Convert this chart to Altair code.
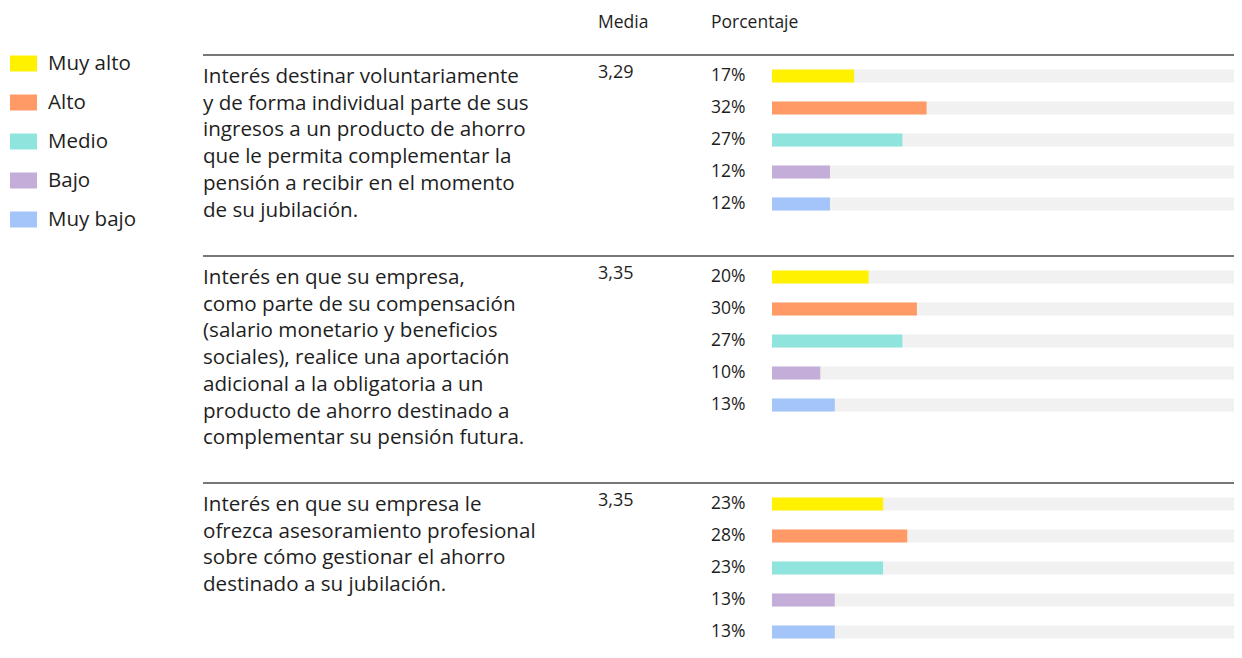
import altair as alt
import pandas as pd

FONT = "Open Sans"
TXT = "#1E1E1E"

levels = ["Muy alto", "Alto", "Medio", "Bajo", "Muy bajo"]
colors = ["#FFF100", "#FF9A66", "#8FE5DD", "#C5ADD9", "#A3C5FA"]

questions = [
    "Interés destinar voluntariamente\ny de forma individual parte de sus\ningresos a un producto de ahorro\nque le permita complementar la\npensión a recibir en el momento\nde su jubilación.",
    "Interés en que su empresa,\ncomo parte de su compensación\n(salario monetario y beneficios\nsociales), realice una aportación\nadicional a la obligatoria a un\nproducto de ahorro destinado a\ncomplementar su pensión futura.",
    "Interés en que su empresa le\nofrezca asesoramiento profesional\nsobre cómo gestionar el ahorro\ndestinado a su jubilación.",
]
medias = ["3,29", "3,35", "3,35"]
pct_q1 = [17, 32, 27, 12, 12]
pct_q2 = [20, 30, 27, 10, 13]
pct_q3 = [23, 28, 23, 13, 13]
pcts = [pct_q1, pct_q2, pct_q3]
headers = ["Media", "Porcentaje"]

# layout (pixels inside chart)
W, H = 1226, 642
rule_y = [47, 248, 475]
first_bar = [68, 269, 496]
STEP = 32
X_Q, X_MEDIA, X_PCT, X_BAR0 = 195, 590, 703, 764
PX_PER_PCT = 4.83

xscale = alt.Scale(domain=[0, 100], range=[X_BAR0, X_BAR0 + 100 * PX_PER_PCT])
cscale = alt.Scale(domain=levels, range=colors)
legend = alt.Legend(
    title=None, orient="none", legendX=2, legendY=42,
    symbolType="M-1,-0.5926H1V0.5926H-1Z", symbolSize=729,
    symbolStrokeWidth=0, symbolOpacity=1,
    labelFontSize=20.5, labelFont=FONT, labelColor=TXT, labelOffset=11,
    rowPadding=15,
)


def group(g):
    df = pd.DataFrame({
        "level": levels,
        "pct": pcts[g],
        "full": [100] * len(levels),
        "label": [f"{p}%" for p in pcts[g]],
    })
    c0 = first_bar[g]
    yenc = alt.Y(
        "level:N", sort=levels, axis=None,
        scale=alt.Scale(domain=levels, range=[c0 - STEP / 2, c0 + STEP * 4 + STEP / 2],
                        paddingInner=19 / 32, paddingOuter=19 / 64),
    )
    base = alt.Chart(df)
    bg = base.mark_bar(color="#F0F1F0", clip=True).encode(
        x=alt.X("full:Q", scale=xscale, axis=None), y=yenc)
    fg = base.mark_bar().encode(
        x=alt.X("pct:Q", scale=xscale, axis=None), y=yenc,
        color=alt.Color("level:N", scale=cscale, legend=legend))
    lab = base.mark_text(align="left", baseline="middle", fontSize=17.5, font=FONT, color=TXT).encode(
        x=alt.value(X_PCT), y=yenc, text="label:N")
    one = alt.Chart(pd.DataFrame({"q": [questions[g]], "m": [medias[g]]}))
    rule = one.mark_rule(color="#4A4A4A", strokeWidth=1.3).encode(
        x=alt.value(X_Q), x2=alt.value(W), y=alt.value(rule_y[g]))
    qtxt = one.mark_text(align="left", baseline="alphabetic", fontSize=20.6, font=FONT,
                         color=TXT, lineBreak="\n", lineHeight=26.7).encode(
        x=alt.value(X_Q), y=alt.value(rule_y[g] + 28), text="q:N")
    mtxt = one.mark_text(align="left", baseline="middle", fontSize=18, font=FONT, color=TXT).encode(
        x=alt.value(X_MEDIA), y=alt.value(c0 - 3), text="m:N")
    return alt.layer(bg, fg, lab, rule, qtxt, mtxt)


hdr_df = pd.DataFrame({"h": headers, "pos": [X_MEDIA, X_PCT]})
hdr = alt.Chart(hdr_df).mark_text(align="left", baseline="middle", fontSize=17.5, font=FONT, color=TXT).encode(
    x=alt.X("pos:Q", scale=None, axis=None), y=alt.value(15), text="h:N")

chart = alt.layer(hdr, group(0), group(1), group(2)).resolve_scale(y="independent").properties(
    width=W, height=H, padding=0, autosize=alt.AutoSizeParams(type="none")
).configure_view(strokeWidth=0)

chart.save("out.html", embed_options={"renderer": "svg", "actions": False})
